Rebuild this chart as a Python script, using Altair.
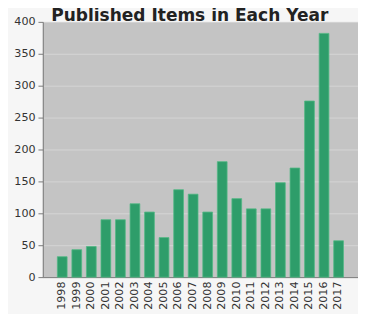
import altair as alt
import pandas as pd

years = [str(y) for y in range(1998, 2018)]
counts = [32, 43, 48, 90, 90, 115, 102, 62, 137, 130, 102, 181, 123, 107, 107, 148, 171, 276, 382, 57]
title_text = "Published Items in Each Year"

df = pd.DataFrame({"year": years, "count": counts})

bars = alt.Chart(df).mark_bar(color="#2e9d6a", stroke="#52b884", strokeWidth=0.8).encode(
    x=alt.X("year:N", sort=years,
            scale=alt.Scale(paddingInner=0.33, paddingOuter=1),
            axis=alt.Axis(title=None, labelAngle=-90, labelFont="DejaVu Sans", labelFontSize=11.5,
                          labelColor="#333333", ticks=False, domainColor="#777777",
                          labelPadding=4, labelBaseline="middle", labelAlign="right")),
    y=alt.Y("count:Q", scale=alt.Scale(domain=[0, 400]),
            axis=alt.Axis(title=None, values=list(range(0, 401, 50)), labelFont="DejaVu Sans",
                          labelFontSize=11.5, labelColor="#333333", tickColor="#777777",
                          tickSize=5, domainColor="#777777", gridColor="#d6d6d6",
                          labelPadding=3)),
)

title = alt.Chart(pd.DataFrame({"t": [title_text]})).mark_text(
    font="DejaVu Sans", fontWeight="bold", fontSize=17.6, color="#222222",
    align="center", baseline="alphabetic"
).encode(text="t:N", x=alt.value(152), y=alt.value(-0.5))

chart = alt.layer(bars, title).properties(
    width=326, height=264,
    padding={"left": 36, "top": 9, "right": 0, "bottom": 40},
    autosize=alt.AutoSizeParams(type="none"),
    background="#f6f6f6",
).configure_view(fill="#c4c4c4", stroke=None)

chart.save("out.html", embed_options={"renderer": "svg", "actions": False})
